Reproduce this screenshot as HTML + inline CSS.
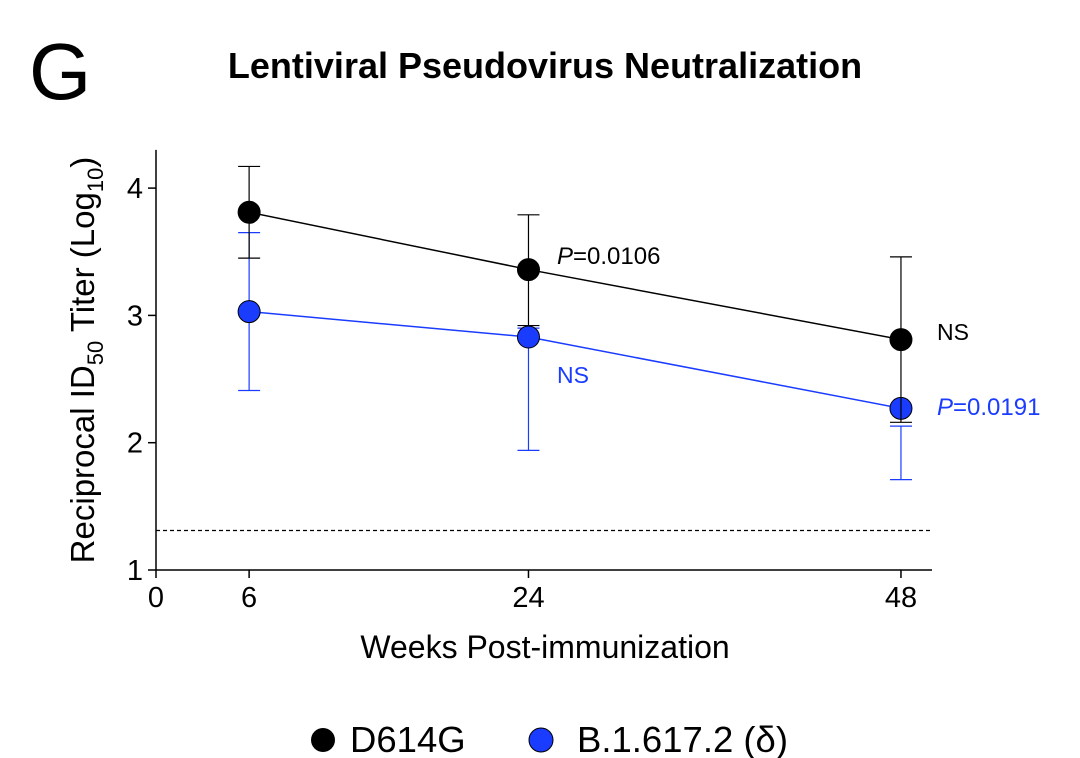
<!DOCTYPE html>
<html><head><meta charset="utf-8"><style>
body{margin:0;background:#fff;}
svg{display:block;font-family:"Liberation Sans",Arial,sans-serif;}
</style></head><body>
<svg id="chart" width="1080" height="758" viewBox="0 0 1080 758">
<text x="29" y="99" font-size="80">G</text>
<text x="545" y="78" font-size="36" font-weight="bold" text-anchor="middle">Lentiviral Pseudovirus Neutralization</text>
<g id="axes"></g>
<g id="marks"></g>
<text transform="translate(94,360) rotate(-90)" font-size="33" text-anchor="middle">Reciprocal ID<tspan font-size="22" dy="9">50</tspan><tspan dy="-9"> Titer (Log</tspan><tspan font-size="22" dy="9">10</tspan><tspan dy="-9">)</tspan></text>
<text x="545" y="658" font-size="32" text-anchor="middle">Weeks Post-immunization</text>
<text x="557" y="264" font-size="24"><tspan font-style="italic">P</tspan>=0.0106</text>
<text x="937" y="340" font-size="23">NS</text>
<text x="557" y="383" font-size="23" fill="#1a3cff">NS</text>
<text x="937" y="415" font-size="24" fill="#1a3cff"><tspan font-style="italic">P</tspan>=0.0191</text>
<g>
<circle cx="323" cy="740" r="12" fill="#000"/>
<text x="350" y="752" font-size="36.5">D614G</text>
<circle cx="541" cy="740" r="12" fill="#1a3cff" stroke="#000" stroke-width="1"/>
<text x="577" y="752" font-size="36.5">B.1.617.2 (δ)</text>
</g>
</svg>
<script>
const weeks = [6, 24, 48];
const d614gMean = [3.81, 3.36, 2.81];
const d614gUpper = [4.17, 3.79, 3.46];
const d614gLower = [3.45, 2.92, 2.16];
const deltaMean = [3.03, 2.83, 2.27];
const deltaUpper = [3.65, 2.90, 2.13];
const deltaLower = [2.41, 1.94, 1.71];
const yTicks = [1, 2, 3, 4];
const xTicks = [0, 6, 24, 48];
const detectionLimit = 1.31;

const NS = 'http://www.w3.org/2000/svg';
const X0 = 156, XMAX = 932, Y0 = 570;
function xs(w){ return X0 + w * (XMAX - X0) / 50; }
function ys(v){ return Y0 - (v - 1) * 127.3; }
function mk(tag, attrs, parent){ const e = document.createElementNS(NS, tag); for (const k in attrs) e.setAttribute(k, attrs[k]); parent.appendChild(e); return e; }
const axes = document.getElementById('axes');
const marks = document.getElementById('marks');

let yAxis = mk('line', {x1: X0, y1: ys(1), x2: X0, y2: ys(4.3), stroke: '#000', 'stroke-width': 1.5}, axes);


let xAxis = mk('line', {x1: X0, y1: Y0, x2: XMAX, y2: Y0, stroke: '#000', 'stroke-width': 1.5}, axes);


yTicks.forEach(t => {
  const l = mk('line', {x1: X0 - 8, x2: X0, y1: ys(t), y2: ys(t), stroke: '#000', 'stroke-width': 1.5}, axes);
  
  
  const tx = mk('text', {x: X0 - 13, y: ys(t) + 10, 'font-size': 29, 'text-anchor': 'end'}, axes);
  tx.textContent = t;
  
  
});
xTicks.forEach(t => {
  const l = mk('line', {x1: xs(t), x2: xs(t), y1: Y0, y2: Y0 + 8, stroke: '#000', 'stroke-width': 1.5}, axes);
  
  
  const tx = mk('text', {x: xs(t), y: Y0 + 37, 'font-size': 29, 'text-anchor': 'middle'}, axes);
  tx.textContent = t;
  
  
});
const lod = mk('line', {x1: X0, x2: XMAX, y1: ys(detectionLimit), y2: ys(detectionLimit), stroke: '#000', 'stroke-width': 1.2, 'stroke-dasharray': '4,3'}, axes);



function series(mean, up, lo, color, name){
  const pts = weeks.map((w, i) => xs(w) + ',' + ys(mean[i])).join(' ');
  const pl = mk('polyline', {points: pts, fill: 'none', stroke: color, 'stroke-width': 1.5}, marks);
  
  
  weeks.forEach((w, i) => {
    const x = xs(w);
    const e = mk('path', {d: `M${x},${ys(up[i])}V${ys(lo[i])}M${x-11},${ys(up[i])}H${x+11}M${x-11},${ys(lo[i])}H${x+11}`, stroke: color, 'stroke-width': 1.2, fill: 'none'}, marks);
    
    
  });
  weeks.forEach((w, i) => {
    const c = mk('circle', {cx: xs(w), cy: ys(mean[i]), r: 11, fill: color, stroke: '#000', 'stroke-width': 1}, marks);
    
    
  });
}
series(deltaMean, deltaUpper, deltaLower, '#1a3cff', 'delta');
series(d614gMean, d614gUpper, d614gLower, '#000', 'd614g');
</script>
</body></html>
